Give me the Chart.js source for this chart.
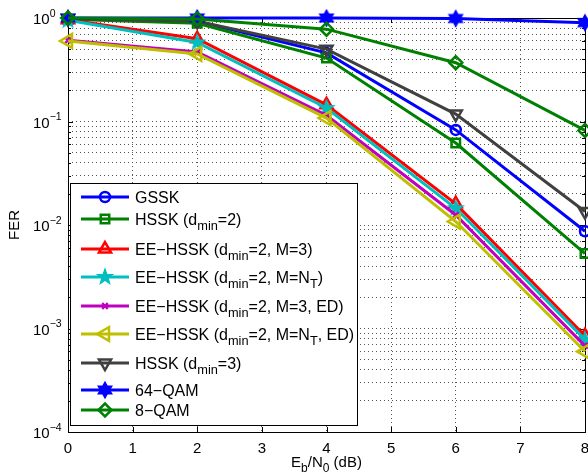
<!DOCTYPE html>
<html>
<head>
<meta charset="utf-8">
<script src="https://cdn.jsdelivr.net/npm/chart.js@4/dist/chart.umd.min.js"></script>
<style>
  html, body { margin: 0; padding: 0; background: #fff; overflow: hidden; }
  #fer { display: block; }
</style>
</head>
<body>
<canvas id="fer" width="588" height="476"></canvas>
<script>
// Eb/N0 points (dB)
const snrDb = [0, 2, 4, 6, 8];
const xTickValues = [0, 1, 2, 3, 4, 5, 6, 7, 8];
const yDecades = [-4, -3, -2, -1, 0];

// FER
const gssk     = [0.98, 0.93, 0.46, 0.083, 0.0087];
const hssk2    = [0.97, 0.89, 0.41, 0.062, 0.0053];
const eeM3     = [0.96, 0.63, 0.145, 0.016, 0.00085];
const eeNt     = [0.95, 0.58, 0.135, 0.0145, 0.00078];
const eeM3Ed   = [0.61, 0.47, 0.115, 0.0125, 0.00068];
const eeNtEd   = [0.60, 0.45, 0.108, 0.0108, 0.00060];
const hssk3    = [0.99, 0.93, 0.50, 0.118, 0.0135];
const qam64    = [1.0, 1.0, 1.0, 0.99, 0.90];
const qam8     = [1.0, 0.98, 0.78, 0.37, 0.082];

const seriesLabels = [
  "GSSK",
  "HSSK (d_{min}=2)",
  "EE\u2212HSSK (d_{min}=2, M=3)",
  "EE\u2212HSSK (d_{min}=2, M=N_{T})",
  "EE\u2212HSSK (d_{min}=2, M=3, ED)",
  "EE\u2212HSSK (d_{min}=2, M=N_{T}, ED)",
  "HSSK (d_{min}=3)",
  "64\u2212QAM",
  "8\u2212QAM"
];

const FAMILY = '"Liberation Sans", Arial, Helvetica, sans-serif';

// star shaped markers (pentagram / hexagram), filled like the matlab ones
function starMarker(points, outer, inner, color) {
  const pad = 2;
  const size = Math.ceil(2 * (outer + pad));
  const c = document.createElement("canvas");
  c.width = size; c.height = size;
  const g = c.getContext("2d");
  const cx = size / 2, cy = size / 2;
  g.beginPath();
  for (let i = 0; i < points * 2; i++) {
    const r = i % 2 === 0 ? outer : inner;
    const a = -Math.PI / 2 + i * Math.PI / points;
    const px = cx + r * Math.cos(a), py = cy + r * Math.sin(a);
    if (i === 0) g.moveTo(px, py); else g.lineTo(px, py);
  }
  g.closePath();
  g.fillStyle = color;
  g.strokeStyle = color;
  g.lineWidth = 1.2;
  g.fill();
  g.stroke();
  return c;
}

const series = [
  { data: gssk,   color: "#0000ff", style: "circle",   radius: 5, rot: 0 },
  { data: hssk2,  color: "#008000", style: "rect",     radius: 6, rot: 0 },
  { data: eeM3,   color: "#ff0000", style: "triangle", radius: 7, rot: 0 },
  { data: eeNt,   color: "#00bfbf", style: starMarker(5, 8, 3.3, "#00bfbf"), radius: 7, rot: 0 },
  { data: eeM3Ed, color: "#bf00bf", style: "crossRot", radius: 4, rot: 0 },
  { data: eeNtEd, color: "#bfbf00", style: "triangle", radius: 8, rot: -90 },
  { data: hssk3,  color: "#404040", style: "triangle", radius: 7, rot: 180 },
  { data: qam64,  color: "#0000ff", style: starMarker(6, 8, 4.6, "#0000ff"), radius: 7, rot: 0 },
  { data: qam8,   color: "#008000", style: "rectRot",  radius: 6.5, rot: 0 }
];

// text with _{sub} and ^{sup} parts
function runsOf(str) {
  const out = [];
  const re = /_\{([^}]*)\}|\^\{([^}]*)\}|([^_^]+)/g;
  let m;
  while ((m = re.exec(str))) {
    if (m[1] !== undefined) out.push({ t: m[1], k: 1 });
    else if (m[2] !== undefined) out.push({ t: m[2], k: -1 });
    else out.push({ t: m[3], k: 0 });
  }
  return out;
}

function drawRich(ctx, str, x, y, size, align) {
  const runs = runsOf(str);
  let total = 0;
  runs.forEach(r => {
    r.size = r.k === 1 ? size * 0.8 : r.k === -1 ? size * 0.7 : size;
    ctx.font = r.size + "px " + FAMILY;
    r.w = ctx.measureText(r.t).width;
    total += r.w;
  });
  let cx = align === "center" ? x - total / 2 : align === "right" ? x - total : x;
  ctx.textAlign = "left";
  ctx.textBaseline = "alphabetic";
  runs.forEach(r => {
    ctx.font = r.size + "px " + FAMILY;
    const dy = r.k === 1 ? size * 0.33 : r.k === -1 ? -size * 0.47 : 0;
    ctx.fillText(r.t, cx, y + dy);
    cx += r.w;
  });
}

const matlabLook = {
  id: "matlabLook",
  beforeDatasetsDraw(chart) {
    const { ctx, chartArea: a, scales } = chart;
    ctx.save();
    ctx.strokeStyle = "#000";
    ctx.lineWidth = 1;
    // inner tick marks
    scales.y.ticks.forEach(t => {
      const py = Math.round(scales.y.getPixelForValue(t.value)) + 0.5;
      const len = Math.abs(Math.log10(t.value) % 1) < 1e-9 ? 5 : 3;
      ctx.beginPath();
      ctx.moveTo(a.left, py); ctx.lineTo(a.left + len, py);
      ctx.moveTo(a.right, py); ctx.lineTo(a.right - len, py);
      ctx.stroke();
    });
    xTickValues.forEach(v => {
      const px = Math.round(scales.x.getPixelForValue(v)) + 0.5;
      ctx.beginPath();
      ctx.moveTo(px, a.bottom); ctx.lineTo(px, a.bottom - 5);
      ctx.moveTo(px, a.top); ctx.lineTo(px, a.top + 5);
      ctx.stroke();
    });
    ctx.strokeRect(Math.round(a.left) + 0.5, Math.round(a.top) + 0.5,
      Math.round(a.right - a.left), Math.round(a.bottom - a.top));
    ctx.restore();
  },
  afterDraw(chart) {
    const { ctx, chartArea: a, scales } = chart;
    ctx.save();
    ctx.fillStyle = "#000";
    // x tick labels, the last one hangs over the edge like in matlab
    ctx.font = "15px " + FAMILY;
    ctx.textAlign = "center";
    ctx.textBaseline = "alphabetic";
    xTickValues.forEach(v => {
      ctx.fillText(String(v), scales.x.getPixelForValue(v), a.bottom + 21);
    });
    // y tick labels 10^k
    yDecades.forEach(k => {
      const py = scales.y.getPixelForValue(Math.pow(10, k));
      const sup = k === 0 ? "0" : "\u2212" + Math.abs(k);
      drawRich(ctx, "10^{" + sup + "}", 33, py + 6, 15, "left");
    });
    // axis titles
    drawRich(ctx, "E_{b}/N_{0} (dB)", (a.left + a.right) / 2, 467, 15, "center");
    ctx.save();
    ctx.translate(19, (a.top + a.bottom) / 2);
    ctx.rotate(-Math.PI / 2);
    ctx.font = "15px " + FAMILY;
    ctx.textAlign = "center";
    ctx.textBaseline = "alphabetic";
    ctx.fillText("FER", 0, 0);
    ctx.restore();

    // legend box
    const box = { x: 70, y: 183, w: 287, h: 242 };
    const rowY = [14, 36, 66, 94, 123, 151, 180, 207, 227];
    ctx.fillStyle = "#fff";
    ctx.fillRect(box.x, box.y, box.w, box.h);
    ctx.strokeStyle = "#000";
    ctx.lineWidth = 1;
    ctx.strokeRect(box.x + 0.5, box.y + 0.5, box.w, box.h);
    chart.data.datasets.forEach((ds, i) => {
      const y = box.y + rowY[i];
      ctx.strokeStyle = ds.borderColor;
      ctx.lineWidth = 3;
      ctx.beginPath();
      ctx.moveTo(box.x + 11, y);
      ctx.lineTo(box.x + 59, y);
      ctx.stroke();
      ctx.fillStyle = "rgba(255,255,255,0)";
      ctx.strokeStyle = ds.borderColor;
      ctx.lineWidth = ds.pointBorderWidth;
      Chart.helpers.drawPoint(ctx, {
        pointStyle: ds.pointStyle,
        rotation: ds.pointRotation,
        radius: ds.pointRadius,
        borderWidth: ds.pointBorderWidth
      }, box.x + 35, y);
      ctx.fillStyle = "#000";
      drawRich(ctx, ds.label, box.x + 65, y + 6, 16, "left");
    });
    ctx.restore();
  }
};

const datasets = series.map((s, i) => ({
  label: seriesLabels[i],
  data: snrDb.map((x, j) => ({ x: x, y: s.data[j] })),
  borderColor: s.color,
  backgroundColor: s.color,
  borderWidth: 3,
  pointStyle: s.style,
  pointRadius: s.radius,
  pointHoverRadius: s.radius,
  pointRotation: s.rot,
  pointBorderWidth: 2.5,
  pointBackgroundColor: "rgba(255,255,255,0)",
  pointBorderColor: s.color,
  tension: 0,
  clip: false,
  order: series.length - i
}));

new Chart(document.getElementById("fer"), {
  type: "line",
  data: { datasets: datasets },
  options: {
    responsive: false,
    animation: false,
    events: [],
    layout: { autoPadding: false, padding: { left: 68, right: 3, top: 18, bottom: 44 } },
    plugins: { legend: { display: false }, tooltip: { enabled: false } },
    scales: {
      x: {
        type: "linear",
        min: 0,
        max: 8,
        ticks: { stepSize: 1, display: false },
        grid: { color: "#555", lineWidth: 1, drawTicks: false, borderDash: [1, 3] },
        border: { display: false, dash: [1, 3] }
      },
      y: {
        type: "logarithmic",
        min: 1e-4,
        max: 1,
        afterBuildTicks(scale) {
          const t = [];
          for (let k = -4; k < 0; k++) {
            for (let m = 1; m < 10; m++) t.push({ value: m * Math.pow(10, k) });
          }
          t.push({ value: 1 });
          scale.ticks = t;
        },
        ticks: { display: false },
        grid: { color: "#555", lineWidth: 1, drawTicks: false, borderDash: [1, 3] },
        border: { display: false, dash: [1, 3] }
      }
    }
  },
  plugins: [matlabLook]
});
</script>
</body>
</html>
